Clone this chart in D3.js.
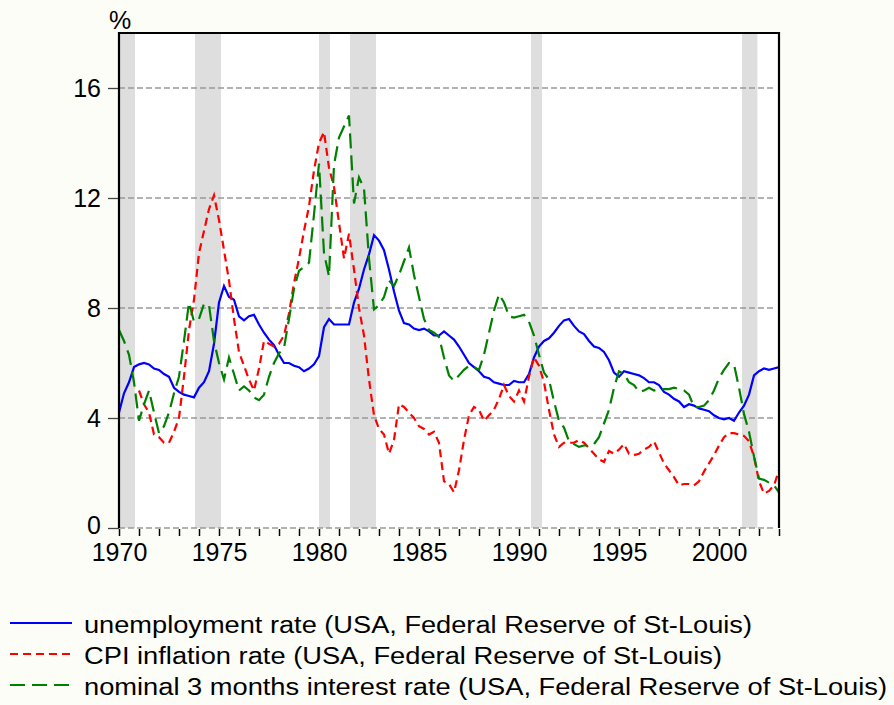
<!DOCTYPE html>
<html>
<head>
<meta charset="utf-8">
<script src="https://cdn.jsdelivr.net/npm/d3@7"></script>
<style>
  body { margin:0; background:#fdfdf8 }
  text { font-family:"Liberation Sans",Arial,sans-serif; fill:#000 }
</style>
</head>
<body>
<svg id="chart" width="894" height="705"></svg>
<script>
// quarterly observations, 1970Q1 .. 2003Q1
const unemployment = [
  4.2,4.9,5.3,5.85, 5.95,6.0,5.95,5.8, 5.75,5.6,5.5,5.1, 4.95,4.85,4.8,4.75,
  5.1,5.3,5.7,6.7, 8.2,8.8,8.4,8.3, 7.7,7.55,7.7,7.75, 7.4,7.1,6.85,6.65,
  6.3,6.0,6.0,5.9, 5.85,5.7,5.8,5.95, 6.25,7.3,7.6,7.4, 7.4,7.4,7.4,8.2,
  8.7,9.4,9.95,10.65, 10.45,10.1,9.4,8.6, 7.9,7.45,7.4,7.25, 7.2,7.25,7.15,7.0,
  7.0,7.15,7.0,6.85, 6.6,6.3,6.0,5.85, 5.7,5.5,5.45,5.3, 5.25,5.2,5.2,5.35,
  5.3,5.3,5.6,6.2, 6.6,6.8,6.9,7.1, 7.35,7.55,7.6,7.35, 7.15,7.05,6.8,6.6,
  6.55,6.4,6.1,5.65, 5.5,5.7,5.65,5.6, 5.55,5.45,5.3,5.3, 5.2,4.95,4.85,4.7,
  4.6,4.4,4.5,4.45, 4.35,4.3,4.25,4.1, 4.0,3.95,4.0,3.9, 4.2,4.45,4.85,5.55,
  5.7,5.8,5.75,5.8, 5.85
]
// CPI inflation starts 1971Q1
const inflation = [
  5.0,4.5,4.2,3.4, 3.3,3.1,3.1,3.5, 4.0,5.5,7.2,8.3, 10.0,10.8,11.6,12.1,
  11.2,10.1,9.0,7.6, 6.4,5.9,5.4,5.0, 5.8,6.8,6.7,6.6, 6.7,7.0,7.8,8.9,
  9.8,10.8,11.7,13.0, 14.0,14.4,13.1,12.4, 11.1,9.8,10.7,9.4, 8.0,7.0,5.4,4.1,
  3.6,3.4,2.7,3.2, 4.5,4.4,4.2,4.0, 3.7,3.6,3.4,3.5, 3.1,1.7,1.6,1.3,
  2.1,3.2,4.1,4.4, 4.3,3.9,4.1,4.3, 4.7,5.2,4.8,4.6, 5.0,4.6,5.5,6.2,
  5.9,5.3,4.3,3.4, 2.95,3.1,3.1,3.1, 3.2,3.1,2.9,2.7, 2.5,2.4,2.8,2.7,
  2.85,3.05,2.7,2.65, 2.7,2.85,2.95,3.15, 2.75,2.35,2.1,1.85, 1.55,1.6,1.6,1.55,
  1.7,2.05,2.35,2.65, 3.0,3.3,3.45,3.45, 3.4,3.35,3.15,2.6, 1.7,1.25,1.35,1.55,
  2.1
]
const interest = [
  7.2,6.8,6.3,5.3, 3.9,4.5,5.0,4.2, 3.45,3.7,4.2,4.9, 5.5,6.8,8.2,7.5,
  7.6,8.15,8.1,6.8, 6.0,5.4,6.2,5.6, 5.0,5.15,5.0,4.75, 4.65,4.85,5.5,6.0,
  6.35,6.55,7.6,8.7, 9.35,9.5,9.65,11.4, 13.25,10.0,9.15,13.2, 14.2,14.6,15.0,11.8,
  12.75,12.35,9.8,7.95, 8.1,8.4,9.0,8.8, 9.2,9.7,10.2,9.2, 8.4,7.6,7.2,7.1,
  6.95,6.2,5.55,5.35, 5.55,5.75,5.9,5.85, 5.75,6.3,7.1,7.9, 8.5,8.2,7.7,7.65,
  7.7,7.75,7.5,7.0, 6.3,5.65,5.4,4.6, 3.9,3.65,3.15,3.05, 2.95,3.0,3.0,3.05,
  3.3,3.8,4.3,5.1, 5.7,5.6,5.3,5.2, 4.95,5.0,5.1,5.0, 5.05,5.05,5.05,5.1,
  5.05,5.0,4.85,4.4, 4.4,4.45,4.65,5.0, 5.45,5.75,6.0,5.95, 5.1,4.15,3.5,2.6,
  1.8,1.75,1.65,1.55, 1.3
]
// NBER recessions (start, end) in decimal years
const recessions = [[1970.0,1970.8],[1973.8,1975.1],[1980.0,1980.55],[1981.55,1982.85],[1990.6,1991.15],[2001.15,2001.92]]
const yTicks = [0,4,8,12,16]
const xLabels = [1970,1975,1980,1985,1990,1995,2000]
const seriesNames = [
  'unemployment rate (USA, Federal Reserve of St-Louis)',
  'CPI inflation rate (USA, Federal Reserve of St-Louis)',
  'nominal 3 months interest rate (USA, Federal Reserve of St-Louis)'
]

const svg = d3.select('#chart')
const m = {l:119,r:779,t:33,b:528}
const x = d3.scaleLinear().domain([1970,2003]).range([m.l,m.r])
const y = d3.scaleLinear().domain([0,18]).range([m.b,m.t])

const toPoints = (vals,start) => vals.map((v,i)=>({t:start+i/4,v}))
const series = [
  {pts:toPoints(unemployment,1970),color:'#0000ff',dash:null},
  {pts:toPoints(inflation,1971),color:'#ff0000',dash:'8,5'},
  {pts:toPoints(interest,1970),color:'#008000',dash:'15,7'}
]

svg.append('rect').attr('x',m.l).attr('y',m.t).attr('width',m.r-m.l).attr('height',m.b-m.t).attr('fill','#fff')

svg.append('g').selectAll('rect').data(recessions).join('rect')
  .attr('x',d=>x(d[0])).attr('width',d=>x(d[1])-x(d[0]))
  .attr('y',m.t).attr('height',m.b-m.t).attr('fill','#dedede')

// grid
svg.append('g').selectAll('line').data(yTicks).join('line')
  .attr('x1',m.l).attr('x2',m.r-3).attr('y1',d=>y(d)).attr('y2',d=>y(d))
  .attr('stroke','#999').attr('stroke-width',1.3).attr('stroke-dasharray','6,3')

// axes
const yAxis = svg.append('g').attr('transform',`translate(${m.l},0)`)
  .call(d3.axisLeft(y).tickValues(yTicks).tickSize(11).tickPadding(7).tickFormat(d3.format('d')))
yAxis.select('.domain').remove()
yAxis.selectAll('line').attr('stroke','#444').attr('stroke-width',1.3)
yAxis.selectAll('text').attr('font-size',25).attr('dy',d=>d===0?'0.22em':'0.35em')

const xAxis = svg.append('g').attr('transform',`translate(0,${m.b+1})`)
  .call(d3.axisBottom(x).ticks(33).tickSize(7).tickPadding(6).tickFormat(d=>xLabels.includes(d)?d:''))
xAxis.select('.domain').remove()
xAxis.selectAll('line').attr('stroke','#000').attr('stroke-width',1.5)
xAxis.selectAll('text').attr('font-size',25).attr('dy','0.74em')

svg.append('text').attr('x',109).attr('y',29).attr('font-size',25).text('%')

// lines
const line = d3.line().x(d=>x(d.t)).y(d=>y(d.v))
svg.append('g').selectAll('path').data(series).join('path')
  .attr('d',d=>line(d.pts)).attr('fill','none')
  .attr('stroke',d=>d.color).attr('stroke-width',2.2)
  .attr('stroke-dasharray',d=>d.dash)

// frame: left, top, right solid
svg.append('path')
  .attr('d',`M${m.l},${m.b}V${m.t}H${m.r}V${m.b}`)
  .attr('fill','none').attr('stroke','#000').attr('stroke-width',2.2)

// legend
const legendW = [668,638,803]
const lg = svg.append('g').selectAll('g').data(series).join('g')
  .attr('transform',(d,i)=>`translate(10,${623+i*31})`)
lg.append('line').attr('x1',0).attr('x2',62)
  .attr('stroke',d=>d.color).attr('stroke-width',2.2).attr('stroke-dasharray',d=>d.dash)
lg.append('text').attr('x',74).attr('y',10).attr('font-size',23)
  .attr('textLength',(d,i)=>legendW[i]).attr('lengthAdjust','spacingAndGlyphs')
  .text((d,i)=>seriesNames[i])
</script>
</body>
</html>
